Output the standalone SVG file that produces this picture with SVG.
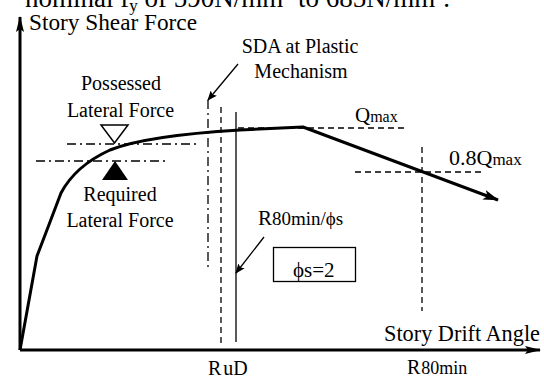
<svg xmlns="http://www.w3.org/2000/svg" width="544" height="376" viewBox="0 0 544 376">
<style>
text{font-family:"Liberation Serif","Times New Roman",serif;fill:#000}
.lbl{font-size:20px}
.ax{font-size:23px}
.thick{stroke:#000;stroke-width:3;fill:none;stroke-linejoin:round}
.thin{stroke:#000;stroke-width:1.3;fill:none}
.dash{stroke:#000;stroke-width:1.3;fill:none;stroke-dasharray:6,4}
.dashdot{stroke:#000;stroke-width:1.3;fill:none;stroke-dasharray:9,4,2,4}
</style>
<defs>
<marker id="ahAxis" viewBox="0 0 16 8" refX="15" refY="4" markerWidth="16" markerHeight="8" markerUnits="userSpaceOnUse" orient="auto">
<path d="M0,0 L16,4 L0,8 L3,4 Z" fill="#000"/>
</marker>
<marker id="ahCurve" viewBox="0 0 16 10" refX="15" refY="5" markerWidth="16" markerHeight="10" markerUnits="userSpaceOnUse" orient="auto">
<path d="M0,0 L16,5 L0,10 L4,5 Z" fill="#000"/>
</marker>
<marker id="ahSmall" viewBox="0 0 10 8" refX="9" refY="4" markerWidth="10" markerHeight="8" markerUnits="userSpaceOnUse" orient="auto">
<path d="M0,0 L10,4 L0,8 L2,4 Z" fill="#000"/>
</marker>
</defs>

<text id="caption" x="25" y="7" font-size="27">nominal f<tspan font-size="17" baseline-shift="-4">y</tspan> of 590N/mm<tspan font-size="16" baseline-shift="9">2</tspan> to 685N/mm<tspan font-size="16" baseline-shift="9">2</tspan>.</text>

<g id="connectors">
<line id="y-axis" class="thick" x1="20" y1="350" x2="20" y2="17" marker-end="url(#ahAxis)"/>
<line id="x-axis" class="thick" x1="20" y1="350" x2="540" y2="350" marker-end="url(#ahAxis)"/>
<path id="curve" class="thick" d="M20,350 L37,256 L50,222 L61,193 C70,176 86,161 110,150 C140,138 190,133 240,130 L303,127 L498,200" marker-end="url(#ahCurve)"/>
<line class="dashdot" x1="67" y1="144" x2="197" y2="144"/>
<line class="dashdot" x1="36" y1="161" x2="166" y2="161"/>
<line class="dashdot" x1="208" y1="100" x2="208" y2="268"/>
<line class="dash" x1="221" y1="107" x2="221" y2="345"/>
<line class="thin" x1="236" y1="112" x2="236" y2="342"/>
<line class="dash" x1="238" y1="128" x2="407" y2="128"/>
<line class="dash" x1="355" y1="172" x2="482" y2="172"/>
<line class="dash" x1="422" y1="147" x2="422" y2="311"/>
<line class="thin" x1="238" y1="64" x2="208" y2="100" marker-end="url(#ahSmall)"/>
<line class="thin" x1="264" y1="237" x2="236" y2="273" marker-end="url(#ahSmall)"/>
</g>

<g id="y-axis-label"><text class="ax" x="29" y="30" textLength="168" lengthAdjust="spacingAndGlyphs">Story Shear Force</text></g>
<g id="x-axis-label"><text class="ax" x="384" y="341" textLength="156" lengthAdjust="spacingAndGlyphs">Story Drift Angle</text></g>
<g id="sda-label">
<text class="lbl" x="300" y="53" text-anchor="middle">SDA at Plastic</text>
<text class="lbl" x="301" y="78" text-anchor="middle">Mechanism</text>
</g>
<g id="possessed">
<text class="lbl" x="121" y="90" text-anchor="middle">Possessed</text>
<text class="lbl" x="120.5" y="117" text-anchor="middle">Lateral Force</text>
<polygon points="101,125 128,125 114.5,143" fill="#fff" stroke="#000" stroke-width="1.5"/>
</g>
<g id="required">
<polygon points="102,180 128,180 115,161" fill="#000"/>
<text class="lbl" x="120" y="201" text-anchor="middle">Required</text>
<text class="lbl" x="120" y="227" text-anchor="middle">Lateral Force</text>
</g>
<g id="qmax"><text x="355" y="122" font-size="21">Q<tspan font-size="16">max</tspan></text></g>
<g id="q08"><text x="449" y="165" font-size="22">0.8Q<tspan font-size="17">max</tspan></text></g>
<g id="r80phi"><text x="258" y="225" font-size="21">R<tspan font-size="19">80min/ϕs</tspan></text></g>
<g id="phi-box">
<rect x="273.5" y="247.5" width="82" height="34" fill="#fff" stroke="#000" stroke-width="1.3"/>
<text x="293" y="277" font-size="21">ϕs=2</text>
</g>
<g id="rud"><text x="208" y="375" font-size="20">R<tspan dx="2">uD</tspan></text></g>
<g id="r80min"><text x="407" y="374" font-size="20">R<tspan font-size="18" dx="1">80min</tspan></text></g>
</svg>
